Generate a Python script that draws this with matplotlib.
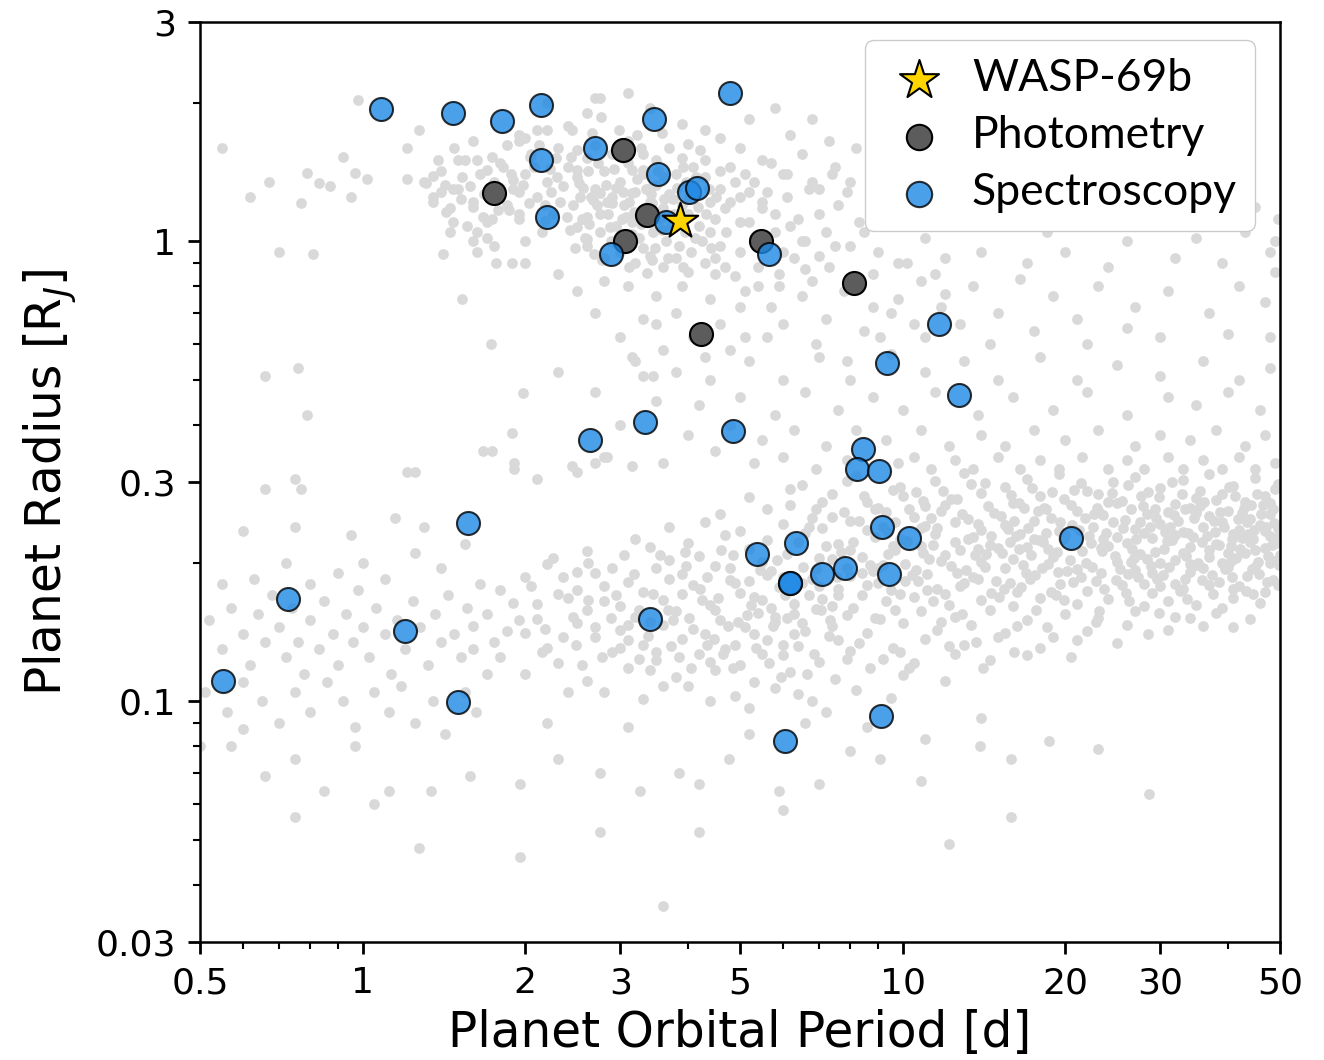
# Radius vs. orbital period of known transiting planets, with the planets
# that have atmospheric observations (photometry / spectroscopy) on top.

import matplotlib.pyplot as plt
import numpy as np
from matplotlib.ticker import FixedLocator, FuncFormatter, NullFormatter

# WASP-69b
wasp69b_period = [3.87]
wasp69b_radius = [1.11]

# planets with photometric observations (period [d], radius [R_J])
photometry_period = [1.75, 3.04, 3.36, 3.06, 4.23, 5.48, 8.12]
photometry_radius = [1.275, 1.58, 1.14, 1.0, 0.629, 1.0, 0.812]

# planets with spectroscopic observations
spectroscopy_period = [1.08, 1.47, 1.81, 2.14, 3.46, 4.80, 2.14, 2.69, 3.52, 2.20,
                       2.88, 4.03, 4.16, 3.65, 5.67, 11.7, 9.34, 12.7, 3.33, 2.64,
                       4.86, 8.43, 8.22, 9.03, 1.57, 9.18, 10.26, 6.36, 5.37, 6.18,
                       6.18, 7.08, 7.81, 9.42, 20.5, 0.729, 1.20, 3.41, 0.551, 1.50,
                       9.14, 6.07]
spectroscopy_radius = [1.94, 1.90, 1.83, 1.98, 1.85, 2.10, 1.50, 1.60, 1.40, 1.13,
                       0.94, 1.28, 1.31, 1.10, 0.94, 0.66, 0.545, 0.464, 0.405, 0.370,
                       0.387, 0.354, 0.320, 0.317, 0.244, 0.239, 0.227, 0.221, 0.209, 0.181,
                       0.181, 0.189, 0.195, 0.189, 0.227, 0.167, 0.142, 0.151, 0.111, 0.0997,
                       0.093, 0.082]

# known planet population, (period [d], radius [R_J])
hot_jupiter_field = [
    (2.4, 1.45), (2.5, 1.38), (2.6, 1.52), (2.7, 1.30), (2.8, 1.42), (2.9, 1.25), (3.0, 1.35),
    (3.1, 1.48), (3.2, 1.28), (3.3, 1.40), (3.4, 1.22), (3.5, 1.33), (3.6, 1.18), (3.7, 1.27),
    (3.8, 1.40), (3.9, 1.20), (4.0, 1.15), (4.1, 1.32), (4.2, 1.08), (4.4, 1.22),
    (2.45, 1.20), (2.55, 1.12), (2.65, 1.25), (2.75, 1.05), (2.85, 1.15), (2.95, 1.08),
    (3.05, 1.20), (3.15, 1.10), (3.25, 1.02), (3.35, 1.30), (3.45, 1.05), (3.55, 1.12),
    (3.65, 1.00), (3.75, 1.24), (3.85, 0.98), (3.95, 1.05), (4.05, 0.95), (4.25, 1.00),
    (4.5, 1.12), (4.6, 0.98), (2.35, 1.32), (2.5, 1.58), (2.7, 1.62), (2.9, 1.55), (3.1, 1.65),
    (3.3, 1.55), (3.5, 1.50), (3.7, 1.60), (3.9, 1.52), (4.1, 1.45), (4.3, 1.38), (4.6, 1.30),
    (4.8, 1.45), (5.0, 1.25), (5.3, 1.35), (2.6, 0.98), (2.8, 0.92), (3.0, 0.95), (3.2, 0.90),
    (3.4, 0.93), (3.6, 0.88), (3.8, 0.92), (4.0, 0.86), (4.3, 0.90), (4.7, 0.88), (5.0, 0.95),
    (5.2, 1.10), (5.5, 1.18), (5.8, 1.05), (6.1, 1.25), (6.4, 1.12), (6.8, 1.35), (7.2, 1.05),
    (7.6, 1.20), (8.0, 0.98),
    (2.49, 1.43), (2.56, 1.31), (2.67, 1.23), (2.75, 1.15), (2.87, 1.075), (2.60, 1.13),
    (2.49, 1.075), (2.39, 1.13), (2.47, 0.97), (2.60, 1.01), (2.75, 1.275), (2.95, 1.31),
    (3.16, 1.275), (3.30, 1.43), (3.16, 1.43), (3.40, 1.31), (3.44, 1.21), (2.90, 1.21),
    (3.08, 1.13), (3.16, 1.04), (3.30, 0.97), (3.44, 0.91), (3.12, 0.88), (2.78, 0.91),
    (3.36, 0.854),
    (4.3, 1.5), (4.6, 1.42), (4.9, 1.35), (5.2, 1.28), (5.5, 1.22), (5.8, 1.15), (6.2, 1.08),
    (4.4, 1.05), (4.7, 1.18), (5.0, 1.10), (5.3, 1.02), (5.6, 0.98), (6.0, 0.95), (6.5, 1.0),
    (4.5, 0.92), (4.9, 0.84), (5.4, 0.88), (5.9, 0.8), (6.6, 0.87), (7.0, 1.15), (6.7, 1.3),
    (6.1, 1.4), (5.7, 1.48), (7.4, 1.4), (7.9, 1.28), (8.3, 1.1),
    (2.52, 1.34), (2.62, 1.42), (2.72, 1.20), (2.82, 1.33), (2.92, 1.44), (3.02, 1.12),
    (3.12, 1.22), (3.22, 1.37), (3.32, 1.15), (3.42, 1.27), (3.52, 1.42), (3.62, 1.24),
    (3.72, 1.08), (3.82, 1.31), (3.92, 1.45), (4.02, 1.25), (4.15, 1.38), (4.32, 1.15),
    (4.52, 1.25), (4.72, 1.05), (2.42, 1.06), (2.58, 1.02), (2.68, 0.94), (2.88, 1.00),
    (3.08, 1.04), (3.28, 1.09), (3.48, 0.97), (3.68, 0.92), (3.88, 1.12), (4.12, 1.02),
    (2.32, 1.22), (2.22, 1.44), (2.12, 1.62), (2.28, 1.52), (2.66, 1.72), (2.98, 1.75),
    (3.22, 1.70), (3.58, 1.72), (4.0, 1.63),
    (2.53, 1.25), (2.63, 1.09), (2.83, 1.22), (2.93, 0.99), (3.03, 1.28), (3.18, 1.16),
    (3.38, 1.19), (3.58, 1.06), (3.78, 1.15), (3.98, 1.35), (4.18, 1.19), (4.38, 1.30),
    (2.43, 1.53), (2.73, 1.48), (3.03, 1.52), (3.28, 1.60), (3.62, 1.38), (4.22, 1.58),
    (2.23, 1.28), (2.18, 1.11), (4.8, 1.22), (5.1, 1.40), (4.42, 0.97), (3.92, 0.88),
]

short_giant_field = [
    (1.3, 1.35), (1.35, 1.25), (1.4, 1.42), (1.45, 1.18), (1.5, 1.30), (1.55, 1.50), (1.6, 1.22),
    (1.65, 1.40), (1.7, 1.10), (1.75, 1.35), (1.8, 1.48), (1.85, 1.20), (1.9, 1.30), (1.95, 1.12),
    (2.0, 1.40), (2.05, 1.55), (2.1, 1.25), (2.15, 1.05), (2.2, 1.35), (2.25, 1.15), (2.3, 1.60),
    (1.45, 1.05), (1.6, 1.00), (1.75, 0.98), (2.0, 1.0), (1.85, 1.62), (1.6, 1.65), (2.2, 1.75),
    (1.95, 1.70), (2.4, 1.78),
    (1.35, 1.39), (1.31, 1.34), (1.40, 1.28), (1.35, 1.22), (1.43, 1.16), (1.47, 1.10),
    (1.56, 1.08), (1.63, 1.05), (1.70, 1.02), (1.50, 1.50), (1.53, 1.38), (1.63, 1.5),
    (1.70, 1.43), (1.74, 1.53), (1.82, 1.45), (1.90, 1.36), (1.95, 1.28), (2.03, 1.21),
    (1.95, 1.15), (1.47, 1.30), (1.60, 1.19), (1.67, 1.13), (1.74, 1.12), (1.87, 1.17),
    (1.95, 1.65), (2.0, 1.68), (2.04, 1.53), (2.1, 1.75), (2.29, 1.38), (2.44, 1.75),
    (2.6, 1.90), (2.76, 1.86), (2.69, 2.05), (3.1, 2.1), (2.75, 2.05), (3.4, 1.95), (2.2, 2.0),
    (1.27, 1.75), (1.21, 1.60), (3.9, 1.8), (4.3, 1.75), (5.2, 1.85), (5.0, 1.6), (4.6, 1.68),
    (1.38, 1.50), (1.48, 1.60), (1.58, 1.32), (1.68, 1.27), (1.78, 1.17), (1.88, 1.40),
    (1.98, 1.33), (2.08, 1.45), (2.18, 1.20), (1.52, 1.24), (1.42, 1.33),
    (0.98, 2.03), (0.92, 1.53), (0.79, 1.41), (0.97, 1.41), (0.83, 1.34), (0.87, 1.32),
    (1.02, 1.37), (0.67, 1.35), (0.95, 1.25), (0.77, 1.21), (1.21, 1.37), (0.62, 1.25),
    (0.7, 0.95), (0.55, 1.6),
    (2.3, 0.85), (2.5, 0.78), (2.8, 0.82), (3.1, 0.80), (3.5, 0.76), (3.9, 0.80), (4.4, 0.75),
    (2.7, 0.70), (3.3, 0.68), (3.8, 0.70), (4.6, 0.66), (4.1, 0.62), (5.0, 0.72), (5.4, 0.80),
    (5.9, 0.85), (6.3, 0.92), (3.0, 0.62), (3.6, 0.58), (4.8, 0.58), (5.6, 0.62), (1.53, 0.75),
    (1.73, 0.60), (2.0, 0.90), (1.77, 0.9), (1.89, 0.9), (1.41, 0.94), (1.63, 0.95), (0.81, 0.94),
]

warm_giant_field = [
    (5.5, 1.5), (6.0, 1.4), (6.5, 1.55), (7.0, 1.3), (7.5, 1.45), (8.0, 1.35), (6.2, 1.7),
    (7.3, 1.65), (5.8, 1.95), (6.8, 1.85), (8.2, 1.6), (5.6, 1.28),
    (6.6, 1.0), (7.0, 0.93), (7.5, 0.98), (8.5, 1.05), (9.0, 0.95), (9.5, 1.1), (10.2, 0.9),
    (11.0, 1.02), (12.0, 0.92), (13.0, 1.08), (14.0, 0.95), (15.5, 1.1), (17.0, 0.9),
    (18.5, 1.05), (20.0, 0.95), (22.0, 1.12), (24.0, 0.88), (26.0, 1.0), (29.0, 1.08),
    (32.0, 0.92), (35.0, 1.02), (39.0, 0.90), (43.0, 1.05), (48.0, 0.95),
    (6.8, 0.82), (7.8, 0.78), (8.8, 0.85), (9.8, 0.75), (10.8, 0.82), (11.8, 0.72), (13.5, 0.80),
    (15.0, 0.70), (16.5, 0.83), (19.0, 0.76), (21.0, 0.68), (23.0, 0.80), (27.0, 0.72),
    (31.0, 0.78), (37.0, 0.70), (42.0, 0.80), (47.0, 0.74), (49.0, 0.86),
    (9.0, 1.18), (10.5, 1.15), (12.5, 1.2), (16.0, 1.17), (19.5, 1.2), (25.0, 1.18), (34.0, 1.16),
    (45.0, 1.19), (49.5, 1.12), (49.0, 1.0),
    (7.2, 0.68), (8.5, 0.64), (9.5, 0.70), (11.0, 0.62), (12.8, 0.66), (14.5, 0.60), (17.5, 0.64),
    (22.0, 0.60), (26.0, 0.65), (30.0, 0.62), (40.0, 0.63), (48.0, 0.62), (6.0, 0.66),
    (4.5, 0.85), (5.1, 0.78), (5.7, 0.72), (6.5, 0.76), (7.3, 0.88), (8.8, 0.72), (9.8, 0.9),
    (10.5, 0.66), (11.5, 0.85), (6.9, 0.6), (7.9, 0.55), (9.1, 0.62), (4.3, 0.56), (5.1, 0.62),
    (3.5, 0.66), (12.0, 0.77),
]

intermediate_field = [
    (3.2, 0.55), (3.8, 0.52), (4.4, 0.5), (5.2, 0.55), (6.0, 0.5), (7.0, 0.56), (8.0, 0.5),
    (9.5, 0.57), (11, 0.52), (13, 0.55), (15, 0.5), (18, 0.56), (21, 0.5), (25, 0.54), (30, 0.51),
    (36, 0.55), (42, 0.5), (48, 0.53),
    (3.5, 0.45), (4.2, 0.44), (5.0, 0.46), (5.8, 0.42), (6.6, 0.47), (7.6, 0.43), (8.8, 0.46),
    (10, 0.43), (11.5, 0.47), (13.8, 0.42), (16, 0.46), (19, 0.43), (22, 0.47), (26, 0.42),
    (31, 0.46), (35, 0.44), (40, 0.47), (46, 0.43),
    (3.0, 0.40), (4.0, 0.38), (4.8, 0.40), (5.5, 0.37), (6.3, 0.39), (7.2, 0.36), (8.2, 0.39),
    (9.3, 0.37), (10.8, 0.39), (12.2, 0.36), (14, 0.38), (15.5, 0.36), (17.5, 0.39), (20, 0.37),
    (23, 0.39), (27, 0.36), (30, 0.38), (34, 0.37), (38, 0.39), (43, 0.36), (47, 0.38),
    (2.8, 0.34), (3.6, 0.33), (4.5, 0.35), (5.3, 0.33), (6.0, 0.34), (6.9, 0.32), (7.9, 0.335),
    (9.8, 0.33), (10.5, 0.34), (11.3, 0.32), (12.5, 0.335), (13.5, 0.32), (15, 0.34), (16.5, 0.32),
    (18, 0.335), (19.5, 0.32), (21.5, 0.34), (24, 0.32), (26, 0.335), (28, 0.32), (31, 0.34),
    (33, 0.32), (36, 0.335), (39, 0.32), (42, 0.34), (45, 0.32), (49, 0.33),
    (1.89, 0.384), (1.67, 0.35), (1.74, 0.35), (1.91, 0.33), (1.91, 0.32), (2.1, 0.305),
    (2.44, 0.325), (2.5, 0.315), (2.84, 0.34), (2.69, 0.33), (1.21, 0.315), (1.25, 0.315),
    (0.66, 0.29), (0.75, 0.305), (0.77, 0.29), (3.16, 0.325), (3.16, 0.56), (2.3, 0.52),
    (1.98, 0.468), (2.69, 0.47), (3.3, 0.51), (3.45, 0.51), (0.66, 0.51), (0.76, 0.53), (0.79, 0.42),
]

small_planet_band = [
    (6.5, .296), (8.2, .309), (9.6, .288), (11.5, .302), (13, .314), (15.5, .293), (17, .305),
    (19.5, .312), (22, .287), (24.5, .300), (27, .308), (30, .291), (33, .303), (37, .313),
    (41, .294), (45, .306), (49, .289),
    (5.2, .278), (6.2, .268), (7.4, .283), (8.6, .271), (10, .280), (11, .266), (12.3, .276),
    (14, .284), (16, .270), (18, .279), (20.5, .267), (23, .282), (25.5, .273), (28.5, .285),
    (32, .269), (35, .277), (39, .283), (43, .272), (47, .280),
    (4.6, .255), (5.6, .262), (6.8, .250), (7.8, .258), (9, .264), (10.5, .252), (11.8, .260),
    (13.2, .249), (14.8, .257), (16.8, .263), (18.8, .251), (21, .259), (23.5, .254), (26.5, .262),
    (29.5, .250), (31, .258), (34, .264), (37, .253), (40, .260), (44, .249), (48, .256),
    (3.7, .240), (4.3, .246), (5.0, .235), (6.0, .243), (7.1, .238), (8.3, .247), (9.4, .234),
    (11, .241), (12.5, .245), (14, .236), (15.5, .242), (17.5, .247), (19.5, .235), (22.5, .240),
    (24.5, .246), (27, .237), (30, .243), (33, .234), (36, .239), (39, .245), (42, .236),
    (46, .242), (49.5, .238),
    (3.2, .226), (4.0, .221), (4.7, .230), (5.6, .224), (6.6, .232), (7.6, .220), (8.9, .228),
    (10.2, .223), (11.5, .231), (13.2, .225), (14.5, .219), (16.2, .229), (18.2, .222), (20, .230),
    (23.5, .226), (26, .221), (28, .232), (31.5, .224), (34.5, .228), (38, .220), (41, .231),
    (44.5, .225), (48, .229),
    (2.6, .212), (3.4, .217), (4.2, .207), (5.2, .214), (6.1, .209), (7.2, .218), (8.4, .206),
    (9.7, .213), (10.8, .218), (12, .208), (13.8, .215), (15.3, .210), (17, .217), (19, .206),
    (21.5, .212), (24, .218), (27.5, .209), (30.5, .215), (33.5, .207), (37, .213), (40.5, .218),
    (43, .210), (47, .216), (50, .208),
    (2.2, .199), (2.9, .195), (3.7, .203), (4.5, .197), (5.5, .201), (6.9, .194), (7.4, .204),
    (9.2, .198), (10.6, .193), (11.8, .202), (14.2, .196), (16, .204), (18.6, .199), (21, .194),
    (25, .201), (28.8, .197), (32, .203), (36, .195), (39, .200), (45, .196), (49, .202),
    (2.0, .186), (2.5, .191), (3.1, .182), (3.9, .189), (4.8, .184), (5.7, .192), (6.5, .181),
    (8, .187), (8.8, .192), (10.1, .183), (12.6, .190), (13.8, .185), (15.8, .181), (17.6, .188),
    (20.2, .192), (22.8, .183), (26.2, .189), (29.6, .185), (34, .191), (38.5, .182), (43.5, .187),
    (48.5, .184),
    (1.8, .175), (2.3, .171), (2.8, .178), (3.3, .173), (4.1, .179), (5.0, .172), (5.9, .177),
    (6.7, .170), (7.6, .176), (8.6, .179), (9.9, .171), (11.1, .175), (12.8, .178), (14.6, .172),
    (16.6, .177), (19.2, .170), (22, .174), (25.5, .179), (29, .172), (33, .176), (37.5, .171),
    (42, .178), (47, .173),
    (1.9, .164), (2.4, .168), (3.0, .161), (3.6, .166), (4.4, .162), (5.3, .169), (6.3, .163),
    (7.1, .167), (8.1, .160), (9.3, .165), (10.5, .169), (12.2, .162), (14, .166), (16, .161),
    (18, .168), (21, .163), (24, .167), (28, .161), (31, .165), (35, .162), (41, .168), (46, .164),
    (1.7, .155), (2.1, .151), (2.6, .158), (3.2, .153), (3.8, .157), (4.6, .150), (5.4, .156),
    (6.1, .152), (6.9, .159), (7.9, .154), (9.1, .151), (10.8, .157), (12.5, .153), (14.5, .158),
    (17, .150), (20, .155), (23, .152), (27, .157), (32, .153), (38, .156), (44, .151),
    (1.6, .146), (2.0, .141), (2.5, .148), (3.0, .143), (3.6, .147), (4.3, .140), (5.1, .145),
    (5.8, .149), (6.6, .142), (7.4, .146), (8.6, .141), (10, .148), (11.6, .143), (13.4, .147),
    (15.5, .141), (18.5, .145), (22, .142), (26, .147), (31, .143), (36, .146),
    (1.75, .135), (2.2, .131), (2.7, .138), (3.3, .133), (3.9, .137), (4.7, .130), (5.6, .136),
    (6.4, .132), (7.3, .139), (8.3, .134), (9.6, .131), (11, .137), (13, .133), (15, .138),
    (18, .131), (21, .136), (25, .134),
    (1.8, .125), (2.3, .121), (2.9, .128), (3.5, .123), (4.2, .127), (5, .120), (6, .126),
    (7, .122), (8, .129), (9.2, .124), (10.5, .121), (12.5, .127), (14.5, .123), (17, .126),
    (2.0, .115), (2.6, .111), (3.1, .118), (3.8, .113), (4.5, .117), (5.3, .110), (6.2, .116),
    (7.5, .112), (8.7, .118), (10, .114), (12, .111),
    (2.4, .105), (3.3, .101), (4.0, .108), (4.9, .103), (5.8, .107), (6.8, .100), (8.2, .106),
    (9.5, .102),
]

band_core_field = [
    (6.9, .262), (8.0, .247), (9.3, .258), (10.8, .238), (12.0, .268), (13.8, .243), (15.2, .253),
    (16.5, .231), (17.8, .259), (19.8, .226), (21.8, .250), (23.8, .232), (25.0, .270),
    (27.5, .245), (29.0, .227), (31.8, .254), (33.8, .232), (35.5, .266), (37.8, .247),
    (40.8, .226), (42.5, .257), (44.8, .236), (46.5, .268), (48.8, .244),
    (6.4, .222), (7.7, .211), (8.7, .198), (9.9, .226), (11.2, .204), (12.8, .213), (14.0, .201),
    (15.8, .222), (17.3, .208), (18.6, .215), (20.4, .203), (22.3, .221), (24.7, .207),
    (26.6, .214), (28.4, .204), (30.9, .223), (33.0, .210), (35.3, .200), (38.5, .219),
    (41.5, .205), (44.0, .222), (47.5, .207), (49.8, .198),
    (6.0, .186), (7.0, .178), (7.9, .195), (9.0, .181), (10.4, .188), (11.6, .176), (13.1, .193),
    (14.9, .183), (16.3, .173), (18.1, .195), (19.6, .180), (21.4, .186), (23.6, .176),
    (26.9, .193), (28.0, .180), (30.3, .188), (32.6, .174), (35.8, .184), (39.6, .194),
    (41.0, .176), (45.8, .189), (49.5, .179),
    (5.5, .166), (6.3, .155), (7.4, .161), (8.4, .170), (9.7, .158), (11.4, .165), (12.9, .155),
    (15.1, .169), (17.7, .158), (19.9, .166), (23.1, .157), (26.3, .165), (29.8, .156),
    (33.6, .167), (39.0, .160), (44.5, .171),
    (2.8, .165), (3.4, .149), (3.1, .136), (3.9, .171), (4.5, .158), (4.1, .144), (4.9, .133),
    (5.2, .183), (5.7, .160), (4.8, .195), (3.7, .185), (2.5, .175), (2.1, .163), (2.7, .145),
    (3.5, .128), (4.4, .122), (5.3, .140), (6.0, .133), (2.35, .138), (1.95, .15),
    (6.2, .290), (7.1, .272), (7.9, .301), (8.9, .262), (9.9, .293), (10.9, .273), (11.9, .287),
    (13.4, .297), (14.4, .266), (15.9, .281), (17.4, .291), (18.4, .262), (19.9, .276),
    (21.4, .299), (22.9, .264), (24.4, .284), (26.1, .295), (27.9, .266), (29.9, .278),
    (31.6, .300), (33.4, .262), (35.6, .287), (38.1, .274), (40.3, .292), (42.9, .264),
    (45.3, .283), (47.9, .270), (49.6, .297),
    (6.7, .240), (7.4, .252), (8.6, .236), (9.7, .246), (10.3, .262), (11.6, .238), (12.9, .256),
    (14.6, .229), (16.1, .247), (17.1, .238), (18.3, .263), (20.6, .242), (22.1, .229),
    (23.1, .258), (25.6, .238), (28.3, .256), (30.6, .233), (32.3, .247), (34.9, .257),
    (36.6, .229), (39.3, .240), (41.8, .249), (43.7, .231), (46.1, .255), (49.2, .227),
    (7.0, .205), (8.1, .222), (9.4, .209), (10.1, .199), (11.4, .219), (12.3, .197), (13.6, .208),
    (15.0, .216), (16.7, .198), (17.9, .224), (19.3, .211), (21.9, .200), (23.3, .216),
    (25.3, .194), (27.1, .226), (29.3, .211), (31.2, .196), (34.1, .217), (36.9, .206),
    (40.1, .196), (42.1, .214), (45.5, .201), (48.3, .219),
    (6.8, .185), (7.6, .170), (8.4, .190), (9.5, .175), (10.7, .183), (12.0, .171), (13.5, .186),
    (15.4, .176), (16.9, .190), (18.8, .173), (20.7, .182), (23.3, .190), (25.9, .172),
    (27.3, .186), (30.0, .178), (33.3, .185), (37.0, .179), (40.8, .186), (43.2, .174),
    (47.3, .182),
    (6.5, .148), (7.6, .136), (8.9, .152), (9.9, .128), (11.8, .149), (13.7, .135), (16.3, .146),
    (19.0, .138), (22.8, .149), (28.5, .140), (34, .152), (41, .145), (7.9, .124), (10.3, .118),
    (12.2, .132), (14.1, .118), (16.1, .128), (20.5, .125),
    (2.25, .205), (2.7, .190), (3.05, .208), (3.5, .195), (3.95, .211), (4.35, .186),
    (4.85, .208), (5.45, .193), (2.45, .153), (2.95, .170), (3.25, .158), (3.75, .150),
    (4.25, .166), (4.75, .146), (5.15, .154), (5.75, .146), (2.15, .128), (2.55, .120),
    (3.0, .131), (3.4, .117), (3.85, .125), (4.35, .133), (4.85, .118), (5.5, .127), (5.95, .113),
    (2.8, .105), (3.6, .108), (4.4, .100), (5.2, .097), (6.4, .104), (7.2, .095),
]

band_fill_field = [
    (2.05, .178), (2.35, .186), (2.62, .166), (2.88, .152), (3.18, .189), (3.45, .171),
    (3.68, .158), (3.98, .197), (4.22, .176), (4.55, .168), (4.9, .181), (5.25, .162),
    (5.6, .188), (6.05, .170), (6.55, .196), (7.05, .158), (7.55, .186), (2.18, .144),
    (2.48, .133), (2.78, .125), (3.1, .147), (3.38, .139), (3.72, .132), (4.02, .152),
    (4.48, .137), (4.95, .149), (5.35, .131), (5.8, .153), (6.3, .140), (6.85, .127),
    (7.35, .150), (1.85, .142), (2.62, .200), (3.55, .208), (4.62, .213), (5.85, .203),
    (3.25, .124), (4.05, .118), (4.65, .127), (5.65, .121), (6.65, .115),
    (20.8, .288), (22.6, .255), (24.0, .272), (25.8, .248), (27.6, .280), (29.4, .262),
    (31.3, .239), (32.9, .283), (34.6, .250), (36.2, .271), (38.7, .258), (41.2, .280),
    (43.4, .246), (44.2, .268), (46.9, .235), (48.6, .262), (21.2, .236), (23.4, .212),
    (25.0, .228), (26.8, .205), (28.7, .240), (30.0, .200), (32.0, .230), (34.0, .199),
    (35.9, .222), (37.9, .234), (40.0, .210), (42.6, .227), (44.9, .213), (47.2, .240),
    (49.4, .221), (22.4, .196), (24.8, .184), (26.5, .201), (29.0, .190), (31.9, .180),
    (34.9, .198), (37.4, .188), (40.5, .202), (44.4, .194), (47.9, .200),
    (8.5, .280), (9.2, .240), (10.6, .285), (11.3, .250), (12.6, .275), (13.5, .228),
    (14.2, .298), (15.7, .237), (16.4, .270), (17.5, .225), (18.9, .286), (19.6, .245),
    (8.0, .213), (9.6, .218), (10.9, .210), (12.5, .222), (14.3, .209), (16.4, .215),
    (18.4, .232), (9.0, .195), (11.1, .189), (13.0, .181), (15.5, .195), (17.2, .185),
    (19.4, .191),
]

ultra_short_field = [
    (0.52, 0.15), (0.55, 0.13), (0.57, 0.16), (0.6, 0.14), (0.62, 0.12), (0.64, 0.155),
    (0.66, 0.135), (0.68, 0.17), (0.7, 0.145), (0.72, 0.125), (0.74, 0.16), (0.76, 0.135),
    (0.78, 0.115), (0.8, 0.15), (0.83, 0.13), (0.85, 0.165), (0.88, 0.14), (0.9, 0.12),
    (0.93, 0.155), (0.96, 0.135), (0.98, 0.175), (1.0, 0.145), (1.03, 0.125), (1.06, 0.16),
    (1.1, 0.14), (1.13, 0.115), (1.16, 0.15), (1.2, 0.13), (1.24, 0.165), (1.28, 0.145),
    (1.32, 0.12), (1.36, 0.155), (1.4, 0.135), (1.44, 0.17), (1.48, 0.14), (1.52, 0.125),
    (1.56, 0.16), (1.6, 0.13), (1.65, 0.18), (1.7, 0.115),
    (0.51, 0.105), (0.56, 0.095), (0.6, 0.11), (0.65, 0.1), (0.7, 0.09), (0.75, 0.105),
    (0.8, 0.095), (0.86, 0.11), (0.92, 0.1), (0.97, 0.088), (1.05, 0.105), (1.12, 0.095),
    (1.18, 0.108), (1.25, 0.09), (1.35, 0.1), (1.42, 0.085), (1.55, 0.105), (1.62, 0.095),
    (0.55, 0.18), (0.63, 0.185), (0.72, 0.2), (0.8, 0.18), (0.9, 0.19), (1.0, 0.2), (1.1, 0.185),
    (1.25, 0.21), (1.4, 0.195), (1.55, 0.22), (1.3, 0.24), (1.15, 0.25), (0.95, 0.23),
    (0.75, 0.24), (0.6, 0.235),
]

low_tail_field = [
    (0.5, 0.08), (0.57, 0.08), (0.66, 0.069), (0.75, 0.075), (0.85, 0.064), (0.97, 0.08),
    (1.12, 0.064), (1.34, 0.064), (1.58, 0.069), (1.96, 0.066), (2.3, 0.075), (2.75, 0.07),
    (3.26, 0.064), (3.86, 0.07), (4.2, 0.066), (4.78, 0.075), (5.9, 0.064), (7.0, 0.066),
    (8.0, 0.078), (9.1, 0.075), (11, 0.083), (13.9, 0.08), (15.9, 0.075), (18.7, 0.082),
    (23, 0.079), (28.6, 0.063), (12.2, 0.049), (15.9, 0.056), (6.0, 0.058), (4.2, 0.052),
    (2.75, 0.052), (1.27, 0.048), (1.96, 0.046), (3.6, 0.036), (0.75, 0.056), (1.05, 0.06),
    (10.8, 0.067), (0.6, 0.087), (5.2, 0.085), (6.6, 0.09), (3.1, 0.088), (2.2, 0.09),
    (8.6, 0.088), (14, 0.092),
]

field = np.array(hot_jupiter_field + short_giant_field + warm_giant_field
                 + intermediate_field + small_planet_band + band_core_field
                 + band_fill_field + ultra_short_field + low_tail_field)

fig = plt.figure(figsize=(13.24, 10.6), dpi=100)
ax = fig.add_axes([200 / 1324, 118 / 1060, 1080 / 1324, 920 / 1060])

ax.scatter(field[:, 0], field[:, 1], s=60, color='#d9d9d9', linewidths=0, zorder=1)
phot = ax.scatter(photometry_period, photometry_radius, s=275, color='#5c5c5c',
                  edgecolors='black', linewidths=1.5, zorder=2, label='Photometry')
spec = ax.scatter(spectroscopy_period, spectroscopy_radius, s=275, color='#1e88e5',
                  edgecolors='black', linewidths=1.5, alpha=0.8, zorder=3, label='Spectroscopy')
star = ax.scatter(wasp69b_period, wasp69b_radius, s=720, marker='*', color='#ffd500',
                  edgecolors='black', linewidths=1.5, zorder=4, label='WASP-69b')

ax.set_xscale('log')
ax.set_yscale('log')
ax.set_xlim(0.5, 50)
ax.set_ylim(0.03, 3)

fmt = FuncFormatter(lambda v, _: f'{v:g}')
ax.xaxis.set_major_locator(FixedLocator([0.5, 1, 2, 3, 5, 10, 20, 30, 50]))
ax.xaxis.set_minor_locator(FixedLocator([0.6, 0.7, 0.8, 0.9, 4, 6, 7, 8, 9, 40]))
ax.yaxis.set_major_locator(FixedLocator([0.03, 0.1, 0.3, 1, 3]))
ax.yaxis.set_minor_locator(FixedLocator([0.04, 0.05, 0.06, 0.07, 0.08, 0.09, 0.2,
                                         0.4, 0.5, 0.6, 0.7, 0.8, 0.9, 2]))
for axis in (ax.xaxis, ax.yaxis):
    axis.set_major_formatter(fmt)
    axis.set_minor_formatter(NullFormatter())

ax.tick_params(which='major', labelsize=26, length=8.75, width=2, pad=8.75)
ax.tick_params(which='minor', length=5, width=1.5)
for sp in ax.spines.values():
    sp.set_linewidth(1.8)

ax.set_xlabel('Planet Orbital Period [d]', fontsize=35, labelpad=6)
ax.set_ylabel('Planet Radius [R$_J$]', fontsize=35, labelpad=12)

ax.legend(handles=[star, phot, spec], loc='upper left', bbox_to_anchor=(0.616, 0.98),
          borderaxespad=0, prop={'family': 'Lato', 'size': 32}, markerscale=1.1,
          handlelength=1.6, handletextpad=0.4, labelspacing=0.36, borderpad=0.4,
          framealpha=1, edgecolor='0.8')

plt.savefig('out.png', dpi=100)
